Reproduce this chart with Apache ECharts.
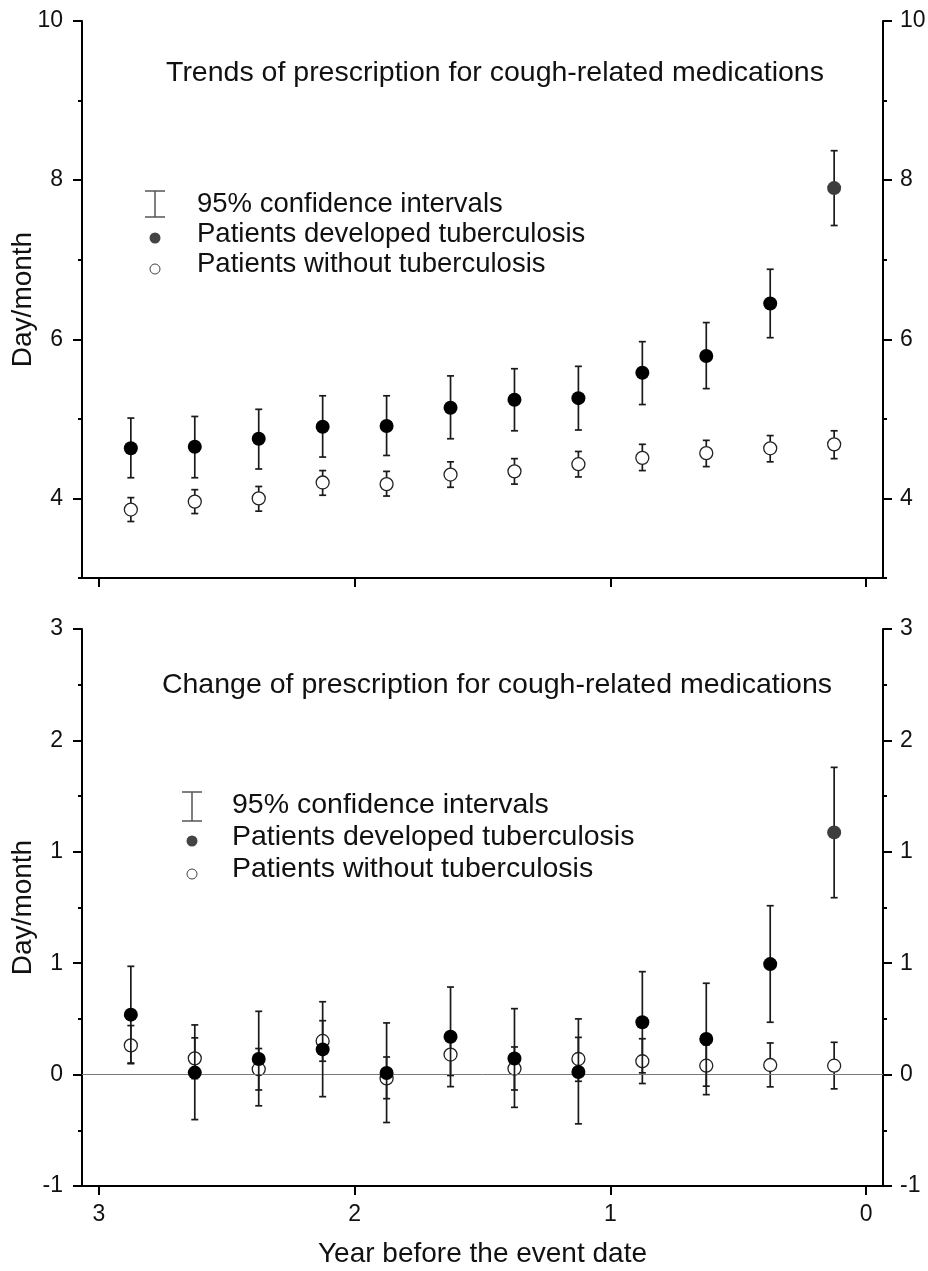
<!DOCTYPE html>
<html>
<head>
<meta charset="utf-8">
<title>Cough-related medications</title>
<script src="https://cdn.jsdelivr.net/npm/echarts@6.0.0/dist/echarts.min.js"></script>
<style>
  html, body { margin: 0; padding: 0; background: #fff; }
  #chart { width: 928px; height: 1271px; }
</style>
</head>
<body>
<div id="chart"></div>
<script>
// years before the event date (quarter midpoints)
const years = [2.875, 2.625, 2.375, 2.125, 1.875, 1.625, 1.375, 1.125, 0.875, 0.625, 0.375, 0.125]
const yearTicks = [0, 1, 2, 3]

// top panel: trends (day/month)
const tbTrend = [4.63, 4.65, 4.75, 4.90, 4.91, 5.14, 5.24, 5.26, 5.58, 5.79, 6.45, 7.90]
const tbTrendLow = [4.26, 4.26, 4.37, 4.52, 4.54, 4.75, 4.85, 4.86, 5.18, 5.38, 6.02, 7.43]
const tbTrendHigh = [5.01, 5.03, 5.12, 5.29, 5.29, 5.54, 5.63, 5.66, 5.97, 6.21, 6.88, 8.37]
const ntTrend = [3.86, 3.96, 4.00, 4.20, 4.18, 4.30, 4.34, 4.43, 4.51, 4.57, 4.63, 4.68]
const ntTrendLow = [3.71, 3.81, 3.84, 4.04, 4.03, 4.14, 4.18, 4.27, 4.35, 4.40, 4.46, 4.50]
const ntTrendHigh = [4.01, 4.11, 4.15, 4.35, 4.34, 4.46, 4.50, 4.59, 4.68, 4.73, 4.79, 4.85]
const trendTicks = [4, 6, 8, 10]

// bottom panel: change
const tbChange = [0.269, 0.009, 0.070, 0.113, 0.007, 0.170, 0.072, 0.012, 0.235, 0.160, 0.496, 1.087]
const tbChangeLow = [0.052, -0.202, -0.140, -0.099, -0.215, -0.054, -0.147, -0.221, 0.008, -0.090, 0.235, 0.794]
const tbChangeHigh = [0.486, 0.223, 0.284, 0.327, 0.232, 0.393, 0.296, 0.250, 0.462, 0.410, 0.758, 1.379]
const ntChange = [0.131, 0.073, 0.024, 0.151, -0.017, 0.090, 0.027, 0.070, 0.060, 0.040, 0.043, 0.040]
const ntChangeLow = [0.049, -0.018, -0.069, 0.060, -0.108, -0.004, -0.069, -0.030, -0.040, -0.052, -0.055, -0.064]
const ntChangeHigh = [0.220, 0.165, 0.117, 0.242, 0.079, 0.184, 0.124, 0.167, 0.161, 0.133, 0.142, 0.145]
const changeTickLabels = ['-1', '0', '1', '1', '2', '3']

const legendTexts = ['95% confidence intervals', 'Patients developed tuberculosis', 'Patients without tuberculosis']
const titleTop = 'Trends of prescription for cough-related medications'
const titleBottom = 'Change of prescription for cough-related medications'

const FONT = '"Liberation Sans", Arial, sans-serif'
const INK = '#111'

const chart = echarts.init(document.getElementById('chart'), null, { renderer: 'canvas' })

// error bar: vertical line with caps
function errorBar(params, api) {
  const x = api.value(0)
  const top = api.coord([x, api.value(2)])
  const bot = api.coord([x, api.value(1)])
  const w = 3.5
  const style = { stroke: '#1a1a1a', lineWidth: 1.7 }
  return {
    type: 'group',
    children: [
      { type: 'line', shape: { x1: top[0], y1: top[1], x2: bot[0], y2: bot[1] }, style },
      { type: 'line', shape: { x1: top[0] - w, y1: top[1], x2: top[0] + w, y2: top[1] }, style },
      { type: 'line', shape: { x1: bot[0] - w, y1: bot[1], x2: bot[0] + w, y2: bot[1] }, style }
    ]
  }
}

const zip = (lo, hi) => years.map((x, i) => [x, lo[i], hi[i]])
const pts = (vals, lastColor) => years.map((x, i) => {
  const item = { value: [x, vals[i]] }
  // the last filled point is printed slightly lighter
  if (lastColor && i === years.length - 1) item.itemStyle = { color: lastColor }
  return item
})

const axisLine = { show: true, onZero: false, lineStyle: { color: '#000', width: 2 } }
const noLine = { show: false, onZero: false }
const majorTick = { show: true, inside: false, length: 9, lineStyle: { color: '#000', width: 2 } }
const minorTick = { show: true, inside: false, length: 4, lineStyle: { color: '#000', width: 2 } }
const labelStyle = { color: INK, fontSize: 23, fontFamily: FONT }

function xAxisFor(gridIndex, withLabels) {
  return {
    type: 'value', gridIndex, min: -0.066, max: 3.066, inverse: true,
    axisLine, splitLine: { show: false },
    axisTick: Object.assign({ customValues: yearTicks }, majorTick),
    axisLabel: withLabels
      ? Object.assign({ customValues: yearTicks, margin: 17 }, labelStyle)
      : { show: false },
    name: withLabels ? 'Year before the event date' : '',
    nameLocation: 'middle', nameGap: 54,
    nameTextStyle: { color: INK, fontSize: 28, fontFamily: FONT }
  }
}

const yName = {
  name: 'Day/month', nameLocation: 'middle', nameGap: 45, nameMoveOverlap: false,
  nameTextStyle: { color: INK, fontSize: 28, fontFamily: FONT }
}
const changeFmt = v => changeTickLabels[Math.round((v + 0.5) / 0.5)]

const yAxes = [
  // top panel: left major (labels 4,6,8,10)
  Object.assign({
    type: 'value', gridIndex: 0, min: 3, max: 10, position: 'left', axisLine, splitLine: { show: false },
    axisTick: Object.assign({ customValues: trendTicks }, majorTick),
    axisLabel: Object.assign({ customValues: trendTicks, margin: 19 }, labelStyle)
  }, yName),
  // top panel: left minor
  { type: 'value', gridIndex: 0, min: 3, max: 10, interval: 1, position: 'left', axisLine: noLine,
    axisTick: minorTick, axisLabel: { show: false }, splitLine: { show: false } },
  // top panel: right major
  { type: 'value', gridIndex: 0, min: 3, max: 10, position: 'right', axisLine, splitLine: { show: false },
    axisTick: Object.assign({ customValues: trendTicks }, majorTick),
    axisLabel: Object.assign({ customValues: trendTicks, margin: 17 }, labelStyle) },
  // top panel: right minor
  { type: 'value', gridIndex: 0, min: 3, max: 10, interval: 1, position: 'right', axisLine: noLine,
    axisTick: minorTick, axisLabel: { show: false }, splitLine: { show: false } },
  // bottom panel: left major
  Object.assign({
    type: 'value', gridIndex: 1, min: -0.5, max: 2, interval: 0.5, position: 'left', axisLine, splitLine: { show: false },
    axisTick: majorTick,
    axisLabel: Object.assign({ margin: 19, formatter: changeFmt }, labelStyle)
  }, yName),
  // bottom panel: left minor
  { type: 'value', gridIndex: 1, min: -0.5, max: 2, interval: 0.25, position: 'left', axisLine: noLine,
    axisTick: minorTick, axisLabel: { show: false }, splitLine: { show: false } },
  // bottom panel: right major
  { type: 'value', gridIndex: 1, min: -0.5, max: 2, interval: 0.5, position: 'right', axisLine, splitLine: { show: false },
    axisTick: majorTick,
    axisLabel: Object.assign({ margin: 17, formatter: changeFmt }, labelStyle) },
  // bottom panel: right minor
  { type: 'value', gridIndex: 1, min: -0.5, max: 2, interval: 0.25, position: 'right', axisLine: noLine,
    axisTick: minorTick, axisLabel: { show: false }, splitLine: { show: false } }
]

function panelSeries(xi, yi, tb, tbLo, tbHi, nt, ntLo, ntHi, zeroLine) {
  const openPts = {
    type: 'scatter', xAxisIndex: xi, yAxisIndex: yi, z: 4, symbolSize: 13,
    itemStyle: { color: '#fff', borderColor: '#222', borderWidth: 1.3, opacity: 1 },
    data: pts(nt)
  }
  if (zeroLine) {
    openPts.markLine = {
      silent: true, symbol: 'none', label: { show: false },
      lineStyle: { color: '#7a7a7a', width: 1, type: 'solid' },
      data: [{ yAxis: 0 }]
    }
  }
  return [
    { type: 'custom', xAxisIndex: xi, yAxisIndex: yi, z: 3, renderItem: errorBar,
      encode: { x: 0, y: [1, 2] }, data: zip(ntLo, ntHi) },
    openPts,
    { type: 'custom', xAxisIndex: xi, yAxisIndex: yi, z: 5, renderItem: errorBar,
      encode: { x: 0, y: [1, 2] }, data: zip(tbLo, tbHi) },
    { type: 'scatter', xAxisIndex: xi, yAxisIndex: yi, z: 6, symbolSize: 14,
      itemStyle: { color: '#000', opacity: 1 }, data: pts(tb, '#3d3d3d') }
  ]
}

// hand drawn legend block (error bar icon, filled dot, open dot)
function legendBlock(iconX, textX, rowY, capTop, capBot, fontSize) {
  const s = { stroke: '#555', lineWidth: 1.5 }
  return [
    { type: 'line', shape: { x1: iconX, y1: capTop, x2: iconX, y2: capBot }, style: s },
    { type: 'line', shape: { x1: iconX - 10, y1: capTop, x2: iconX + 10, y2: capTop }, style: s },
    { type: 'line', shape: { x1: iconX - 10, y1: capBot, x2: iconX + 10, y2: capBot }, style: s },
    { type: 'circle', shape: { cx: iconX, cy: rowY[1] + 4, r: 5.5 }, style: { fill: '#444' } },
    { type: 'circle', shape: { cx: iconX, cy: rowY[2] + 5, r: 5 }, style: { fill: '#fff', stroke: '#444', lineWidth: 1 } }
  ].concat(legendTexts.map((t, i) => ({
    type: 'text', x: textX, y: rowY[i],
    style: { text: t, fill: INK, fontSize, fontFamily: FONT, align: 'left', verticalAlign: 'middle' }
  })))
}

const option = {
  animation: false,
  backgroundColor: '#fff',
  grid: [
    { left: 82, right: 45, top: 21, height: 557, containLabel: false, outerBoundsMode: 'none' },
    { left: 82, right: 45, top: 629, height: 557, containLabel: false, outerBoundsMode: 'none' }
  ],
  xAxis: [xAxisFor(0, false), xAxisFor(1, true)],
  yAxis: yAxes,
  series: [
    ...panelSeries(0, 0, tbTrend, tbTrendLow, tbTrendHigh, ntTrend, ntTrendLow, ntTrendHigh, false),
    ...panelSeries(1, 4, tbChange, tbChangeLow, tbChangeHigh, ntChange, ntChangeLow, ntChangeHigh, true)
  ],
  graphic: [
    { type: 'text', x: 495, y: 73,
      style: { text: titleTop, fill: INK, fontSize: 28.5, fontFamily: FONT, align: 'center', verticalAlign: 'middle' } },
    { type: 'text', x: 497, y: 685,
      style: { text: titleBottom, fill: INK, fontSize: 28.5, fontFamily: FONT, align: 'center', verticalAlign: 'middle' } },
    ...legendBlock(155, 197, [204, 234, 264], 191, 217, 27.5),
    ...legendBlock(192, 232, [805, 837, 869], 792, 821, 28.5)
  ]
}

chart.setOption(option)
</script>
</body>
</html>
